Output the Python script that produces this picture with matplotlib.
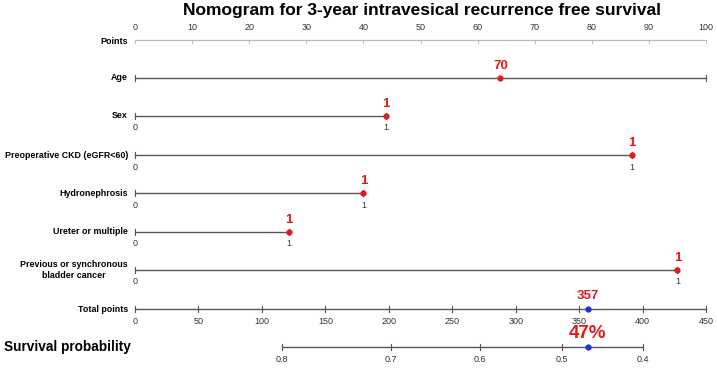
import matplotlib
matplotlib.use("Agg")
import matplotlib.pyplot as plt

plt.rcParams["font.family"] = ["Liberation Sans", "DejaVu Sans"]

# ---------- data ----------
title = "Nomogram for 3-year intravesical recurrence free survival"
point_ticks = list(range(0, 101, 10))

var_names = ["Age", "Sex", "Preoperative CKD (eGFR<60)", "Hydronephrosis",
             "Ureter or multiple", "Previous or synchronous\nbladder cancer"]
var_max_points = [100, 44, 87, 40, 27, 95]      # length of each scale in points
var_end_labels = [("", ""), ("0", "1"), ("0", "1"), ("0", "1"), ("0", "1"), ("0", "1")]
sel_labels = ["70", "1", "1", "1", "1", "1"]
sel_points = [64, 44, 87, 40, 27, 95]

total_ticks = [0, 50, 100, 150, 200, 250, 300, 350, 400, 450]
total_max = 450
total_sel = 357

surv_labels = ["0.8", "0.7", "0.6", "0.5", "0.4"]
surv_total = [116, 202, 272, 336.5, 400]
surv_sel = "47%"

# ---------- layout (pixel rows, point scale on x) ----------
X0, PX = 135, 5.71
fig = plt.figure(figsize=(7.17, 3.72), dpi=100)
ax = fig.add_axes([0, 0, 1, 1])
ax.set_xlim(-X0 / PX, (717 - X0) / PX)
ax.set_ylim(372, 0)
ax.axis("off")

LINE = "#555555"
RED = "#e3191c"
BLUE = "#1f2ee0"
row_y = [78, 116, 155, 193, 232, 270]
label_x = -7 / PX
LFS = 6.4


def tick(x, y, h=3, c=LINE):
    ax.plot([x, x], [y - h, y + h], color=c, lw=0.8)


ax.text((422 - X0) / PX, 10, title, ha="center", va="center",
        fontsize=12.5, fontweight="bold")

# Points scale
ax.text(label_x, 41, "Points", ha="right", va="center", fontsize=LFS, fontweight="bold")
ax.plot([0, 100], [40, 40], color="#bbbbbb", lw=0.9)
for t in point_ticks:
    ax.plot([t, t], [40, 43], color="#bbbbbb", lw=0.7)
    ax.text(t, 28, str(t), ha="center", va="center", fontsize=6.5, color="#333333")

# Predictor scales
for name, mx, (l0, l1), sl, sp, y in zip(var_names, var_max_points, var_end_labels,
                                          sel_labels, sel_points, row_y):
    ax.text(label_x, y, name, ha="right", va="center", fontsize=LFS,
            fontweight="bold", linespacing=1.3, multialignment="center")
    ax.plot([0, mx], [y, y], color=LINE, lw=1.0)
    tick(0, y)
    tick(mx, y)
    if l0:
        ax.text(0, y + 12, l0, ha="center", va="center", fontsize=6.5, color="#333333")
        ax.text(mx, y + 12, l1, ha="center", va="center", fontsize=6.5, color="#333333")
    ax.plot(sp, y, "o", color=RED, ms=3.5, zorder=3)
    ax.text(sp, y - 12, sl, ha="center", va="center", fontsize=9.5,
            color=RED, fontweight="bold")

# Total points scale
ty = 309
k = 100 / total_max
ax.text(label_x, ty, "Total points", ha="right", va="center", fontsize=LFS, fontweight="bold")
ax.plot([0, 100], [ty, ty], color=LINE, lw=1.0)
for t in total_ticks:
    tick(t * k, ty)
    ax.text(t * k, ty + 12, str(t), ha="center", va="center", fontsize=6.5, color="#333333")
ax.plot(total_sel * k, ty, "o", color=BLUE, ms=3.5, zorder=3)
ax.text(total_sel * k, ty - 13, str(total_sel), ha="center", va="center",
        fontsize=9.5, color=RED, fontweight="bold")

# Survival probability scale
sy = 347
ax.text(4 / PX - X0 / PX, sy, "Survival probability", ha="left", va="center",
        fontsize=9.8, fontweight="bold")
ax.plot([surv_total[0] * k, surv_total[-1] * k], [sy, sy], color=LINE, lw=1.0)
for lab, t in zip(surv_labels, surv_total):
    tick(t * k, sy)
    ax.text(t * k, sy + 12, lab, ha="center", va="center", fontsize=6.5, color="#333333")
ax.plot(total_sel * k, sy, "o", color=BLUE, ms=3.5, zorder=3)
ax.text(total_sel * k, sy - 14, surv_sel, ha="center", va="center",
        fontsize=13.5, color=RED, fontweight="bold", zorder=4)

fig.savefig("out.png", dpi=100)
